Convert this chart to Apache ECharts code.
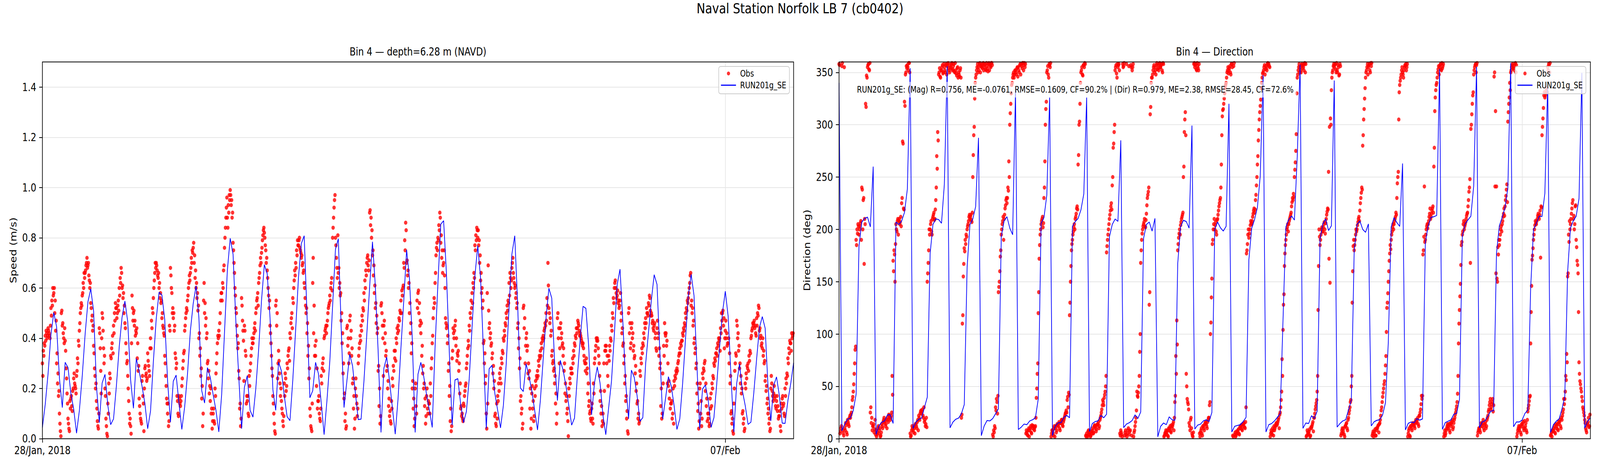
<!DOCTYPE html>
<html><head><meta charset="utf-8">
<script src="https://cdn.jsdelivr.net/npm/echarts@6/dist/echarts.min.js"></script>
<style>html,body{margin:0;padding:0;background:#fff;overflow:hidden;width:100vw;height:100vh}#c{width:5000px;height:1200px;transform-origin:0 0;position:absolute;left:0;top:0}</style>
</head><body><div id="c"></div>
<script>
const suptitle = 'Naval Station Norfolk LB 7 (cb0402)';
const leftTitle = 'Bin 4 \u2014 depth=6.28 m (NAVD)';
const rightTitle = 'Bin 4 \u2014 Direction';
const leftYName = 'Speed (m/s)';
const rightYName = 'Direction (deg)';
const statsText = 'RUN201g_SE: (Mag) R=0.756, ME=-0.0761, RMSE=0.1609, CF=90.2% | (Dir) R=0.979, ME=2.38, RMSE=28.45, CF=72.6%';
const obsName = 'Obs';
const modelName = 'RUN201g_SE';
// hours since 28 Jan 2018 00:00
const xTickHours = [0, 240];
const xTickLabels = ['28/Jan, 2018', '07/Feb'];
const speedTicks = [0, 0.2, 0.4, 0.6, 0.8, 1.0, 1.2, 1.4];
const dirTicks = [0, 50, 100, 150, 200, 250, 300, 350];
const obsPerHour = 3;   // each obs array: 3 readings per hour; set B is offset by 10 min

// model, hourly
const speedModel = [
0.045,0.137,0.26,0.414,0.502,0.445,0.239,0.124,0.304,0.283,
0.181,0.118,0.022,0.113,0.249,0.414,0.545,0.597,0.507,0.21,
0.064,0.222,0.256,0.132,0.056,0.079,0.21,0.366,0.484,0.548,
0.465,0.234,0.121,0.319,0.268,0.21,0.142,0.04,0.11,0.307,
0.477,0.583,0.572,0.473,0.229,0.066,0.229,0.253,0.142,0.037,
0.127,0.259,0.429,0.538,0.609,0.482,0.191,0.142,0.283,0.244,
0.176,0.113,0.027,0.176,0.424,0.67,0.798,0.735,0.463,0.249,
0.04,0.205,0.251,0.113,0.086,0.2,0.356,0.55,0.693,0.657,
0.482,0.195,0.113,0.305,0.27,0.171,0.088,0.072,0.234,0.434,
0.643,0.777,0.808,0.492,0.163,0.191,0.304,0.259,0.142,0.016,
0.152,0.307,0.531,0.755,0.796,0.443,0.124,0.229,0.336,0.29,
0.181,0.076,0.078,0.229,0.414,0.604,0.784,0.609,0.346,0.025,
0.28,0.325,0.229,0.123,0.018,0.161,0.361,0.55,0.752,0.638,
0.395,0.025,0.257,0.304,0.249,0.176,0.113,0.045,0.366,0.618,
0.854,0.868,0.657,0.346,0.054,0.234,0.239,0.137,0.064,0.108,
0.239,0.443,0.648,0.769,0.638,0.346,0.04,0.278,0.292,0.181,
0.113,0.043,0.132,0.298,0.521,0.735,0.808,0.541,0.202,0.188,
0.298,0.249,0.191,0.113,0.035,0.152,0.317,0.482,0.599,0.56,
0.307,0.152,0.312,0.273,0.21,0.132,0.054,0.082,0.249,0.395,
0.527,0.519,0.366,0.095,0.22,0.286,0.22,0.093,0.016,0.123,
0.229,0.414,0.614,0.675,0.463,0.22,0.079,0.273,0.244,0.171,
0.069,0.084,0.298,0.424,0.55,0.653,0.614,0.346,0.079,0.161,
0.247,0.21,0.132,0.037,0.079,0.22,0.395,0.57,0.654,0.57,
0.298,0.04,0.198,0.214,0.152,0.045,0.084,0.22,0.366,0.502,
0.587,0.487,0.249,0.027,0.22,0.298,0.191,0.132,0.057,0.066,
0.181,0.317,0.443,0.486,0.44,0.21,0.071,0.212,0.246,0.171,
0.062,0.061,0.152,0.22,0.302
];
const dirModel = [
340,7.6,14,18.6,19.7,27,42.5,183.7,207,210.5,
211.7,202.4,260,4.1,12.2,15.8,17,22.8,22.8,14.6,
207,204.7,208,216.3,238.5,354,9.8,15.8,18.6,19.7,
29.8,39.6,176.7,204.7,210,209.4,205.9,243,356,10.4,
15.8,18.6,19.7,23.9,32.6,163.9,204.7,209.9,221.8,287.5,
2.9,12.2,17.4,17,19.3,23.9,28.6,192.9,208.1,212.1,
201.2,194.9,333,8.8,11,14,13.4,17,18.1,20,
38,205.9,211.2,232.7,326,2.9,12.2,15.3,15.3,20.4,
22.3,20,202.9,207.5,210.5,218.7,233.9,326,6.9,14.5,
16.4,17,22.3,20,23.4,192.9,204.7,209.9,207.7,285.1,
10.6,14,15.3,17.4,22.8,19.3,25.6,191.4,204.7,207,
198.4,210.5,1.8,11.8,15,13.4,20.9,18.1,17.6,167.3,
202.4,208.7,207.5,201.2,299.2,9.2,13,13.9,17,18.1,
16.4,25.1,200,207,201.6,198.4,202.9,320,6.4,11.8,
12.7,13.4,16.4,20.4,170.9,201.2,209.4,221,251.3,347.4,
6.4,13.4,14.5,17,20.4,23.9,113.6,202.4,209.4,212.9,
208.9,270,357.4,9.9,15,14.5,22,19.3,26.3,190.7,
205.4,210,198.9,203.5,342.3,11.1,14.5,17,18.1,27.4,
36.8,179,204.7,208.1,200,197.2,205.2,12.2,16.2,17.6,
18.1,22.8,34.4,92.7,202.4,211.2,206.5,202.9,263,8.4,
14.7,16,15.2,19.2,17.7,18.9,187.1,203.4,211.6,212.1,
213.3,353.3,9,15.4,16.7,18,23.4,24.2,37.7,193.3,
205.3,209.1,212.6,241.6,355.3,10.4,16,17.2,21.7,26.4,
26.7,177.1,203.4,211.6,220.8,239.6,359,11.4,16,16,
17.7,24.2,27.2,143.3,199.6,205.8,212.6,212.3,234.5,339.5,
6,13.4,16.7,18.9,28.4,40.2,159.6,201.3,208.3,212.6,
229.5,349.5,10.2,16.7,19.7
];

// observations set A, at h:00, h:20, h:40
const speedObs = [
0.3,0.35,0.38, 0.41,0.43,0.4, 0.44,0.42,0.4, 0.52,0.55,0.6, 0.58,0.5,0.43, 0.3,0.22,0.17, 0.1,0.03,0.5, 0.45,0.42,0.38, 0.39,0.28,0.18, 0.08,0.04,0.15,
0.16,0.13,0.19, 0.24,0.22,0.2, 0.25,0.32,0.39, 0.43,0.5,0.54, 0.57,0.62,0.66, 0.66,0.69,0.72, 0.69,0.65,0.6, 0.54,0.47,0.43, 0.37,0.28,0.2, 0.15,0.07,0.04,
0.44,0.36,0.18, 0.5,0.43,0.3, 0.2,0.08,0.02, 0.14,0.22,0.26, 0.33,0.36,0.41, 0.45,0.5,0.54, 0.52,0.5,0.55, 0.6,0.64,0.68, 0.6,0.56,0.5, 0.46,0.38,0.3,
0.25,0.15,0.06, 0.05,0.38,0.52, 0.5,0.45,0.41, 0.42,0.32,0.27, 0.16,0.1,0.07, 0.23,0.17,0.03, 0.28,0.25,0.23, 0.34,0.29,0.25, 0.4,0.47,0.52, 0.56,0.63,0.7,
0.7,0.67,0.64, 0.6,0.56,0.54, 0.48,0.45,0.42, 0.33,0.25,0.16, 0.1,0.05,0.45, 0.68,0.6,0.5, 0.48,0.43,0.34, 0.28,0.17,0.1, 0.17,0.14,0.15, 0.21,0.28,0.34,
0.43,0.48,0.52, 0.55,0.6,0.65, 0.66,0.72,0.75, 0.76,0.7,0.64, 0.6,0.56,0.51, 0.4,0.33,0.25, 0.16,0.05,0.55, 0.5,0.45,0.4, 0.3,0.24,0.18, 0.15,0.1,0.04,
0.1,0.07,0.2, 0.26,0.34,0.41, 0.43,0.46,0.55, 0.58,0.62,0.67, 0.76,0.84,0.92, 0.88,0.93,0.97, 0.99,0.93,0.88, 0.78,0.7,0.6, 0.52,0.45,0.36, 0.27,0.12,0.05,
0.56,0.47,0.39, 0.45,0.35,0.14, 0.15,0.1,0.25, 0.27,0.33,0.4, 0.38,0.42,0.46, 0.5,0.55,0.58, 0.62,0.66,0.72, 0.74,0.79,0.83, 0.82,0.77,0.7, 0.67,0.6,0.52,
0.45,0.38,0.28, 0.17,0.1,0.03, 0.53,0.45,0.24, 0.35,0.26,0.17, 0.15,0.1,0.05, 0.22,0.26,0.19, 0.3,0.33,0.36, 0.42,0.46,0.5, 0.56,0.6,0.67, 0.7,0.75,0.79,
0.77,0.8,0.75, 0.72,0.69,0.66, 0.62,0.56,0.5, 0.42,0.33,0.24, 0.12,0.05,0.03, 0.62,0.42,0.33, 0.33,0.21,0.12, 0.15,0.1,0.07, 0.25,0.28,0.32, 0.4,0.43,0.45,
0.45,0.5,0.53, 0.57,0.6,0.64, 0.8,0.88,0.95, 0.8,0.72,0.64, 0.66,0.6,0.57, 0.47,0.38,0.26, 0.16,0.07,0.04, 0.44,0.37,0.3, 0.47,0.4,0.33, 0.22,0.12,0.04,
0.2,0.17,0.09, 0.3,0.36,0.41, 0.45,0.49,0.52, 0.58,0.63,0.67, 0.7,0.73,0.67, 0.9,0.85,0.8, 0.73,0.65,0.58, 0.52,0.46,0.42, 0.27,0.13,0.06, 0.53,0.5,0.4,
0.45,0.38,0.33, 0.27,0.2,0.13, 0.09,0.07,0.15, 0.24,0.29,0.35, 0.35,0.4,0.44, 0.45,0.48,0.51, 0.55,0.59,0.6, 0.7,0.79,0.86, 0.7,0.65,0.6, 0.5,0.42,0.34,
0.2,0.12,0.05, 0.2,0.13,0.55, 0.58,0.5,0.45, 0.42,0.33,0.26, 0.2,0.13,0.06, 0.17,0.12,0.15, 0.14,0.22,0.28, 0.38,0.48,0.56, 0.62,0.73,0.78, 0.8,0.85,0.9,
0.78,0.72,0.66, 0.7,0.65,0.48, 0.44,0.38,0.27, 0.17,0.07,0.03, 0.32,0.44,0.4, 0.45,0.37,0.31, 0.33,0.27,0.18, 0.12,0.09,0.08, 0.14,0.17,0.21, 0.28,0.33,0.39,
0.45,0.5,0.55, 0.58,0.62,0.66, 0.77,0.81,0.84, 0.8,0.77,0.7, 0.63,0.58,0.52, 0.38,0.3,0.22, 0.1,0.58,0.69, 0.44,0.4,0.37, 0.32,0.26,0.2, 0.09,0.06,0.14,
0.17,0.22,0.26, 0.28,0.32,0.35, 0.4,0.43,0.46, 0.5,0.53,0.55, 0.62,0.66,0.6, 0.68,0.72,0.64, 0.6,0.56,0.52, 0.44,0.36,0.28, 0.15,0.1,0.04, 0.52,0.44,0.3,
0.4,0.35,0.26, 0.24,0.12,0.04, 0.18,0.12,0.07, 0.2,0.23,0.25, 0.27,0.31,0.33, 0.35,0.38,0.4, 0.41,0.43,0.46, 0.5,0.56,0.7, 0.52,0.46,0.41, 0.33,0.3,0.27,
0.22,0.14,0.06, 0.48,0.4,0.3, 0.44,0.4,0.37, 0.33,0.27,0.18, 0.15,0.1,0.07, 0.2,0.24,0.28, 0.28,0.32,0.35, 0.38,0.41,0.44, 0.44,0.46,0.43, 0.42,0.4,0.38,
0.38,0.33,0.3, 0.3,0.26,0.18, 0.13,0.1,0.08, 0.12,0.08,0.22, 0.3,0.35,0.4, 0.4,0.36,0.3, 0.15,0.1,0.05, 0.1,0.3,0.35, 0.35,0.3,0.25, 0.33,0.37,0.4,
0.45,0.5,0.56, 0.6,0.63,0.58, 0.57,0.54,0.52, 0.55,0.47,0.42, 0.37,0.3,0.22, 0.15,0.08,0.03, 0.5,0.42,0.36, 0.44,0.4,0.35, 0.32,0.26,0.19, 0.14,0.08,0.06,
0.27,0.32,0.36, 0.38,0.42,0.46, 0.48,0.52,0.5, 0.54,0.57,0.51, 0.5,0.46,0.44, 0.45,0.4,0.36, 0.44,0.4,0.33, 0.28,0.13,0.08, 0.26,0.37,0.46, 0.41,0.37,0.22,
0.21,0.16,0.12, 0.14,0.08,0.2, 0.23,0.25,0.27, 0.28,0.3,0.33, 0.36,0.38,0.39, 0.42,0.44,0.46, 0.5,0.52,0.55, 0.56,0.6,0.65, 0.53,0.5,0.45, 0.38,0.34,0.28,
0.18,0.11,0.04, 0.2,0.1,0.05, 0.26,0.28,0.3, 0.19,0.13,0.07, 0.08,0.05,0.16, 0.18,0.22,0.25, 0.3,0.32,0.34, 0.36,0.38,0.4, 0.4,0.44,0.5, 0.5,0.45,0.36,
0.43,0.4,0.37, 0.38,0.3,0.22, 0.1,0.06,0.03, 0.14,0.27,0.34, 0.47,0.4,0.35, 0.28,0.22,0.18, 0.1,0.06,0.03, 0.22,0.26,0.29, 0.3,0.33,0.35, 0.4,0.43,0.46,
0.46,0.44,0.42, 0.48,0.5,0.53, 0.43,0.4,0.37, 0.36,0.33,0.3, 0.23,0.19,0.14, 0.1,0.06,0.03, 0.2,0.22,0.17, 0.18,0.16,0.13, 0.15,0.11,0.08, 0.09,0.05,0.14,
0.16,0.13,0.1, 0.2,0.24,0.26, 0.32,0.36,0.39, 0.38,0.42,0.41
];
// observations set B, at h:10, h:30, h:50
const speedObsB = [
0.25,0.33,0.37, 0.39,0.42,0.41, 0.43,0.41,0.45, 0.49,0.53,0.57, 0.6,0.55,0.47, 0.34,0.26,0.19, 0.06,0.01,0.51, 0.46,0.4,0.44, 0.35,0.24,0.14, 0.06,0.03,0.12,
0.17,0.11,0.2, 0.26,0.21,0.18, 0.27,0.3,0.37, 0.46,0.52,0.53, 0.58,0.6,0.64, 0.67,0.7,0.68, 0.7,0.63,0.62, 0.52,0.49,0.45, 0.34,0.25,0.22, 0.12,0.05,0.1,
0.42,0.27,0.4, 0.48,0.36,0.33, 0.17,0.05,0.01, 0.1,0.18,0.24, 0.32,0.38,0.34, 0.42,0.47,0.52, 0.48,0.53,0.51, 0.57,0.62,0.66, 0.61,0.58,0.53, 0.44,0.34,0.31,
0.2,0.1,0.08, 0.02,0.57,0.47, 0.51,0.47,0.43, 0.44,0.38,0.29, 0.13,0.08,0.06, 0.25,0.14,0.2, 0.29,0.26,0.24, 0.31,0.27,0.36, 0.36,0.44,0.5, 0.6,0.66,0.68,
0.69,0.65,0.66, 0.62,0.58,0.55, 0.5,0.44,0.41, 0.3,0.21,0.14, 0.14,0.07,0.43, 0.65,0.58,0.52, 0.5,0.45,0.32, 0.3,0.15,0.09, 0.16,0.13,0.17, 0.24,0.31,0.35,
0.45,0.5,0.51, 0.57,0.62,0.63, 0.68,0.7,0.74, 0.78,0.73,0.67, 0.62,0.58,0.53, 0.42,0.36,0.28, 0.21,0.1,0.62, 0.54,0.48,0.42, 0.31,0.27,0.21, 0.2,0.12,0.07,
0.12,0.06,0.17, 0.3,0.38,0.4, 0.41,0.5,0.58, 0.55,0.6,0.69, 0.8,0.88,0.96, 0.84,0.9,0.95, 0.97,0.95,0.9, 0.75,0.66,0.57, 0.5,0.41,0.38, 0.24,0.14,0.08,
0.53,0.43,0.23, 0.43,0.33,0.17, 0.17,0.09,0.21, 0.3,0.36,0.38, 0.4,0.44,0.43, 0.52,0.56,0.53, 0.64,0.69,0.7, 0.76,0.81,0.84, 0.8,0.75,0.72, 0.64,0.57,0.55,
0.42,0.33,0.25, 0.14,0.06,0.02, 0.55,0.5,0.3, 0.31,0.22,0.2, 0.12,0.07,0.09, 0.17,0.24,0.21, 0.28,0.35,0.31, 0.4,0.48,0.44, 0.54,0.63,0.65, 0.68,0.73,0.77,
0.79,0.76,0.74, 0.73,0.7,0.67, 0.6,0.53,0.52, 0.46,0.37,0.28, 0.09,0.04,0.14, 0.72,0.53,0.37, 0.39,0.28,0.15, 0.17,0.08,0.12, 0.22,0.3,0.27, 0.41,0.44,0.42,
0.47,0.52,0.54, 0.55,0.62,0.59, 0.84,0.92,0.97, 0.77,0.68,0.81, 0.68,0.62,0.58, 0.5,0.42,0.3, 0.18,0.1,0.05, 0.45,0.4,0.34, 0.49,0.43,0.36, 0.24,0.17,0.08,
0.24,0.14,0.12, 0.33,0.38,0.39, 0.43,0.47,0.51, 0.55,0.6,0.65, 0.72,0.69,0.71, 0.91,0.88,0.83, 0.75,0.69,0.61, 0.54,0.49,0.44, 0.29,0.2,0.09, 0.54,0.45,0.25,
0.47,0.42,0.35, 0.29,0.23,0.16, 0.11,0.06,0.12, 0.21,0.27,0.32, 0.31,0.38,0.42, 0.43,0.47,0.5, 0.5,0.57,0.61, 0.68,0.75,0.83, 0.71,0.67,0.62, 0.54,0.46,0.38,
0.23,0.16,0.08, 0.22,0.1,0.52, 0.59,0.54,0.47, 0.46,0.37,0.29, 0.22,0.16,0.09, 0.2,0.1,0.14, 0.1,0.17,0.32, 0.41,0.52,0.54, 0.66,0.76,0.75, 0.79,0.83,0.88,
0.81,0.75,0.69, 0.75,0.6,0.46, 0.45,0.41,0.3, 0.21,0.12,0.05, 0.35,0.42,0.43, 0.47,0.4,0.34, 0.35,0.3,0.22, 0.13,0.1,0.07, 0.13,0.19,0.22, 0.3,0.36,0.37,
0.43,0.48,0.52, 0.54,0.6,0.64, 0.75,0.79,0.83, 0.83,0.79,0.73, 0.66,0.6,0.55, 0.39,0.34,0.25, 0.04,0.14,0.51, 0.46,0.42,0.38, 0.34,0.29,0.23, 0.1,0.05,0.08,
0.15,0.19,0.24, 0.22,0.3,0.34, 0.39,0.41,0.45, 0.48,0.51,0.54, 0.57,0.64,0.63, 0.7,0.66,0.62, 0.61,0.58,0.54, 0.46,0.4,0.32, 0.17,0.12,0.06, 0.53,0.48,0.37,
0.42,0.37,0.3, 0.27,0.2,0.08, 0.21,0.15,0.09, 0.17,0.21,0.24, 0.25,0.29,0.32, 0.33,0.36,0.39, 0.4,0.44,0.45, 0.47,0.53,0.61, 0.5,0.48,0.43, 0.35,0.31,0.28,
0.25,0.18,0.1, 0.5,0.44,0.36, 0.46,0.42,0.38, 0.36,0.3,0.22, 0.17,0.12,0.01, 0.17,0.22,0.26, 0.26,0.3,0.33, 0.37,0.4,0.42, 0.47,0.45,0.41, 0.41,0.39,0.37,
0.36,0.31,0.27, 0.32,0.28,0.22, 0.15,0.11,0.07, 0.14,0.06,0.18, 0.32,0.37,0.39, 0.39,0.33,0.25, 0.19,0.13,0.07, 0.06,0.19,0.37, 0.37,0.33,0.21, 0.31,0.35,0.39,
0.43,0.48,0.54, 0.62,0.6,0.56, 0.59,0.55,0.53, 0.58,0.5,0.44, 0.38,0.33,0.25, 0.17,0.11,0.02, 0.52,0.46,0.38, 0.46,0.42,0.37, 0.33,0.29,0.22, 0.15,0.1,0.07,
0.25,0.3,0.34, 0.37,0.4,0.44, 0.46,0.5,0.49, 0.53,0.56,0.49, 0.49,0.47,0.43, 0.46,0.42,0.35, 0.47,0.42,0.36, 0.3,0.2,0.1, 0.22,0.33,0.42, 0.42,0.39,0.3,
0.23,0.19,0.14, 0.15,0.1,0.06, 0.21,0.24,0.26, 0.27,0.31,0.34, 0.34,0.37,0.39, 0.41,0.43,0.45, 0.48,0.51,0.54, 0.58,0.62,0.66, 0.55,0.52,0.47, 0.4,0.36,0.3,
0.22,0.14,0.07, 0.22,0.15,0.08, 0.24,0.27,0.31, 0.22,0.16,0.1, 0.1,0.06,0.12, 0.13,0.2,0.24, 0.29,0.31,0.34, 0.33,0.37,0.39, 0.35,0.42,0.47, 0.51,0.48,0.4,
0.47,0.42,0.38, 0.4,0.34,0.25, 0.11,0.08,0.02, 0.2,0.3,0.33, 0.45,0.42,0.37, 0.3,0.25,0.2, 0.11,0.08,0.04, 0.2,0.24,0.28, 0.27,0.31,0.34, 0.41,0.44,0.45,
0.47,0.45,0.41, 0.45,0.49,0.52, 0.44,0.41,0.38, 0.4,0.35,0.31, 0.25,0.21,0.16, 0.12,0.08,0.04, 0.25,0.19,0.15, 0.21,0.17,0.12, 0.17,0.13,0.09, 0.11,0.03,0.12,
0.17,0.14,0.09, 0.17,0.22,0.25, 0.3,0.34,0.38, 0.35,0.4,0.42
];
const dirObs = [
358,5,10, 356,8,3, 10,15,6, 18,14,20, 20,25,37, 45,62,85, 190,200,205, 195,203,208, 240,200,230, 210,320,347,
355,358,352, 25,15,8, 12,6,18, 8,4,10, 5,10,3, 14,10,18, 15,12,18, 20,16,22, 18,22,60, 170,180,150,
205,198,210, 208,205,212, 225,284,220, 322,348,356, 357,352,359, 5,3,12, 8,12,5, 14,10,18, 22,18,26, 24,28,20,
16,12,20, 150,168,200, 200,208,195, 212,216,210, 228,270,293, 348,354,345, 352,357,350, 355,350,358, 356,359,352, 357,354,359,
353,358,350, 352,347,355, 350,346,354, 20,110,155, 182,190,195, 200,205,212, 210,214,207, 250,290,325, 345,352,358, 355,358,350,
357,354,359, 355,358,352, 356,351,359, 358,355,359, 4,8,12, 30,38,24, 140,150,174, 195,205,212, 210,220,228, 225,240,265,
300,320,338, 345,350,348, 352,348,355, 355,350,358, 358,354,359, 357,355,5, 6,3,10, 8,12,5, 10,12,8, 12,39,62,
120,172,195, 205,210,202, 230,265,315, 350,356,345, 357,359,5, 8,3,12, 10,6,14, 12,16,8, 15,18,12, 18,22,25,
25,40,44, 118,150,180, 190,198,205, 210,215,222, 262,300,320, 350,355,347, 357,359,3, 5,2,8, 4,2,7, 8,5,12,
10,7,13, 14,10,18, 22,28,37, 32,42,50, 178,190,200, 210,218,225, 242,278,293, 352,357,345, 355,358,5, 8,4,358,
356,3,8, 358,5,10, 4,8,355, 352,358,6, 12,20,45, 40,50,83, 168,190,200, 205,210,202, 215,230,236, 128,310,340,
345,352,357, 355,348,359, 357,352,359, 355,358,350, 358,3,6, 4,8,2, 8,12,6, 10,14,8, 35,79,113, 180,192,200,
204,210,214, 250,293,312, 62,38,33, 15,8,20, 5,2,358, 355,358,352, 356,352,5, 6,10,3, 12,8,15, 14,10,18,
20,35,111, 153,190,205, 200,207,195, 210,218,225, 230,262,308, 315,325,335, 340,350,355, 352,356,348, 358,3,356, 4,2,7,
6,9,4, 10,13,8, 12,15,10, 30,180,195, 192,200,208, 205,212,218, 216,228,242, 262,285,305, 318,335,345, 350,355,348,
356,352,359, 358,355,5, 6,10,3, 8,12,15, 14,18,10, 25,37,76, 104,138,177, 190,200,205, 205,210,214, 222,230,234,
250,264,291, 345,352,358, 355,350,358, 357,352,359, 358,3,6, 5,9,3, 10,14,7, 20,28,34, 45,123,200, 185,195,202,
198,205,200, 206,214,220, 255,298,306, 333,350,356, 355,358,350, 352,357,347, 358,3,8, 5,10,2, 12,15,8, 20,27,35,
50,130,184, 180,190,200, 200,207,212, 218,230,240, 280,305,325, 345,352,358, 355,358,350, 356,3,7, 5,9,3, 8,12,6,
15,22,30, 40,48,55, 70,102,130, 150,170,185, 190,198,205, 205,210,216, 230,250,305, 338,345,352, 350,345,355, 356,352,358,
5,10,2, 12,8,15, 14,10,18, 16,20,12, 22,28,41, 41,180,241, 190,200,205, 205,212,220, 212,218,222, 260,313,333,
340,350,356, 355,358,352, 354,358,5, 3,8,12, 10,14,6, 12,16,9, 15,20,25, 31,43,91, 123,148,185, 195,205,200,
205,210,215, 222,236,248, 296,310,328, 348,355,358, 357,3,8, 10,6,15, 12,18,8, 14,10,18, 22,28,35, 28,33,38,
32,350,313, 241,150,176, 185,195,203, 205,212,220, 222,232,243, 303,320,340, 350,355,358, 356,352,359, 357,5,10, 8,12,4,
12,16,8, 10,15,6, 26,32,40, 91,146,175, 190,200,208, 205,210,215, 210,218,222, 290,306,328, 326,330,335, 355,358,350,
3,6,8, 8,12,5, 10,14,8, 14,18,10, 18,25,38, 38,60,81, 155,195,208, 205,215,225, 210,200,222, 190,170,158,
73,55,48, 40,30,25, 18,10,6, 14,20,12
];
const dirObsB = [
357,7,12, 359,5,355, 8,13,4, 16,12,22, 23,30,40, 52,72,88, 185,196,203, 200,206,190, 238,228,167, 205,317,345,
357,353,359, 30,20,12, 14,9,4, 2,6,12, 8,2,6, 12,16,20, 17,14,10, 18,23,20, 20,25,42, 160,176,186,
200,208,195, 210,207,203, 230,282,219, 318,350,354, 355,359,350, 2,8,10, 6,10,14, 12,16,8, 20,24,27, 26,22,30,
18,14,11, 158,180,195, 205,198,210, 214,209,219, 240,258,285, 350,346,352, 355,349,358, 352,357,348, 358,354,350, 355,358,352,
356,351,359, 349,354,345, 348,352,345, 23,118,167, 179,186,193, 203,208,214, 212,209,216, 271,298,340, 348,355,350, 352,359,356,
355,358,352, 357,353,359, 354,358,352, 356,359,357, 2,6,10, 27,35,41, 145,160,180, 200,208,190, 214,223,230, 230,237,250,
311,330,340, 348,345,352, 350,354,346, 352,357,348, 356,359,352, 359,358,8, 4,8,2, 10,6,13, 12,9,11, 20,48,72,
140,185,200, 208,212,206, 240,300,322, 352,348,358, 355,2,8, 5,10,2, 12,8,13, 14,10,15, 18,13,16, 20,24,27,
37,30,42, 130,165,186, 195,202,200, 212,220,219, 271,303,340, 352,348,357, 355,358,2, 3,7,4, 6,3,5, 10,6,13,
12,9,14, 16,12,20, 25,32,35, 39,45,60, 184,195,205, 214,222,219, 250,282,300, 355,349,358, 357,352,3, 6,2,355,
359,6,4, 2,8,356, 7,357,3, 355,2,8, 16,27,41, 44,60,100, 180,196,203, 207,203,209, 223,233,240, 140,317,345,
348,355,350, 352,357,353, 354,358,355, 357,352,359, 2,5,8, 6,3,10, 10,7,13, 12,16,20, 41,62,90, 186,196,195,
207,212,216, 260,305,290, 50,35,28, 12,18,10, 3,6,359, 357,353,359, 354,358,2, 8,5,12, 10,14,16, 12,16,20,
32,100,135, 186,200,210, 204,198,209, 214,222,228, 240,290,314, 320,330,338, 345,352,349, 354,350,358, 355,2,359, 6,3,5,
8,5,11, 12,9,14, 14,11,16, 177,186,200, 196,204,206, 208,215,220, 219,233,250, 270,295,312, 324,340,349, 352,357,353,
354,358,357, 356,2,8, 4,8,12, 10,14,13, 16,20,23, 30,45,60, 128,165,185, 195,202,198, 208,212,216, 226,228,231,
257,275,330, 348,355,350, 352,357,354, 355,358,350, 2,8,4, 7,2,11, 12,16,20, 24,31,37, 60,165,193, 190,200,198,
202,207,196, 210,217,219, 172,149,300, 345,352,358, 357,353,359, 350,355,348, 356,5,10, 7,4,12, 14,10,18, 24,30,37,
60,160,190, 185,195,198, 204,210,208, 225,235,238, 290,315,335, 350,355,348, 357,352,359, 359,5,2, 7,3,10, 10,13,14,
18,27,35, 44,52,62, 79,125,139, 160,177,181, 195,202,200, 208,212,214, 244,255,331, 342,348,355, 348,352,357, 358,355,2,
8,3,12, 10,14,13, 12,16,15, 18,14,22, 25,33,38, 176,193,188, 195,203,201, 208,215,210, 215,220,216, 278,326,338,
345,353,348, 357,353,359, 356,2,8, 5,10,14, 12,8,15, 14,18,11, 18,23,28, 35,60,110, 136,166,188, 198,208,203,
207,213,216, 228,240,168, 300,320,331, 352,357,350, 359,6,10, 8,12,14, 15,10,13, 16,12,20, 26,32,38, 30,35,26,
346,241,158, 153,183,190, 190,200,198, 208,215,213, 228,238,226, 312,326,333, 352,357,354, 354,358,350, 2,8,12, 10,6,14,
14,10,17, 12,8,18, 29,36,41, 121,171,182, 195,204,206, 208,213,212, 214,173,221, 298,316,331, 328,333,331, 352,357,359,
4,2,7, 10,6,14, 12,9,16, 16,12,20, 22,28,33, 45,56,73, 158,188,200, 210,220,228, 213,205,223, 183,166,121,
62,52,45, 36,28,22, 15,8,13, 16,11,23
];

const FONT = '"DejaVu Sans", sans-serif';
const W = 5000, H = 1200;
const sx = (window.innerWidth || W) / W;
const sy = (window.innerHeight || H) / H;
const box = document.getElementById('c');
box.style.transform = 'scale(' + sx + ',' + sy + ')';
const chart = echarts.init(box, null, {renderer: 'svg', width: W, height: H});

const G = [
  {left: 132.5, top: 158.5, width: 2347.5, height: 964},
  {left: 2622, top: 158.5, width: 2348, height: 964}
];

function obsPoints(a, b) {
  return a.map((v, i) => [i / obsPerHour, v]).concat(b.map((v, i) => [(i + 0.5) / obsPerHour, v]));
}
function xAxisOf(gi) {
  return {
    gridIndex: gi, type: 'value', min: 0, max: 264, interval: 240,
    axisLine: {show: false},
    axisTick: {show: true, inside: false, length: 10, lineStyle: {color: '#000', width: 2}, customValues: xTickHours},
    axisLabel: {customValues: xTickHours, color: '#000', fontFamily: FONT, fontSize: 27.8, margin: 16,
      formatter: v => { const i = xTickHours.indexOf(v); return i >= 0 ? xTickLabels[i] : ''; }},
    splitLine: {show: true, lineStyle: {color: '#e6e6e6', width: 2}}
  };
}
function yAxisOf(gi, max, interval, ticks, fmt) {
  return {
    gridIndex: gi, type: 'value', min: 0, max: max, interval: interval,
    axisLine: {show: false},
    axisTick: {show: true, inside: false, length: 10, lineStyle: {color: '#000', width: 2}, customValues: ticks},
    axisLabel: {customValues: ticks, color: '#000', fontFamily: FONT, fontSize: 27.8, margin: 19, formatter: fmt},
    splitLine: {show: true, lineStyle: {color: '#e6e6e6', width: 2}}
  };
}
function legendAt(left) {
  return {
    left: left, top: 170, orient: 'vertical',
    data: [
      {name: obsName, icon: 'circle'},
      {name: modelName, icon: 'path://M0,0 L48,0 L48,3 L0,3 Z'}
    ],
    itemWidth: 47, itemHeight: 10, itemGap: 8,
    padding: [7, 10, 11, 7],
    backgroundColor: 'rgba(255,255,255,0.8)', borderColor: '#cccccc', borderWidth: 2, borderRadius: 6,
    textStyle: {fontFamily: FONT, fontSize: 22.2, color: '#000', padding: [0, 0, 0, 8]},
    selectedMode: false
  };
}
function frame(g) {
  return {type: 'rect', z: 50, silent: true,
    shape: {x: g.left, y: g.top, width: g.width, height: g.height},
    style: {fill: 'none', stroke: '#000', lineWidth: 2}};
}
function txt(x, y, text, size, opts) {
  return Object.assign({type: 'text', x: x, y: y, z: 60, silent: true,
    style: {text: text, font: size + 'px ' + FONT, fill: '#000', align: 'center', verticalAlign: 'middle',
      textAlign: 'center', textVerticalAlign: 'middle'}}, opts || {});
}

const midY = G[0].top + G[0].height / 2;
const statsEl = txt(2669, 229.5, statsText, 22.2);
statsEl.style.align = 'left'; statsEl.style.textAlign = 'left';
statsEl.style.backgroundColor = 'rgba(255,255,255,0.6)';
statsEl.style.padding = [9, 9, 9, 9];

chart.setOption({
  animation: false,
  backgroundColor: '#ffffff',
  grid: G.map(g => Object.assign({show: false, containLabel: false}, g)),
  xAxis: [xAxisOf(0), xAxisOf(1)],
  yAxis: [
    yAxisOf(0, 1.5, 0.2, speedTicks, v => Number(v).toFixed(1)),
    yAxisOf(1, 360, 50, dirTicks, v => String(Math.round(v)))
  ],
  legend: [legendAt(2246), legendAt(4735)],
  series: [
    {type: 'scatter', name: obsName, xAxisIndex: 0, yAxisIndex: 0, z: 2, clip: true, silent: true,
     symbol: 'circle', symbolSize: 10.5, itemStyle: {color: '#ff0000'},
     data: obsPoints(speedObs, speedObsB)},
    {type: 'line', name: modelName, xAxisIndex: 0, yAxisIndex: 0, z: 3, clip: true, silent: true,
     symbol: 'none', showSymbol: false, lineStyle: {color: '#0000ff', width: 2.2}, itemStyle: {color: '#0000ff'},
     data: speedModel.map((v, i) => [i, v])},
    {type: 'scatter', name: obsName, xAxisIndex: 1, yAxisIndex: 1, z: 2, clip: true, silent: true,
     symbol: 'circle', symbolSize: 10.5, itemStyle: {color: '#ff0000'},
     data: obsPoints(dirObs, dirObsB)},
    {type: 'line', name: modelName, xAxisIndex: 1, yAxisIndex: 1, z: 3, clip: true, silent: true,
     symbol: 'none', showSymbol: false, lineStyle: {color: '#0000ff', width: 2.2}, itemStyle: {color: '#0000ff'},
     data: dirModel.map((v, i) => [i, v])}
  ],
  graphic: {elements: [
    frame(G[0]), frame(G[1]),
    txt(2500, 21, suptitle, 36),
    txt(G[0].left + G[0].width / 2, 132, leftTitle, 27.8),
    txt(G[1].left + G[1].width / 2, 132, rightTitle, 27.8),
    txt(42, midY, leftYName, 27.8, {rotation: Math.PI / 2}),
    txt(2522, midY, rightYName, 27.8, {rotation: Math.PI / 2}),
    statsEl
  ]}
});
</script>
</body></html>
